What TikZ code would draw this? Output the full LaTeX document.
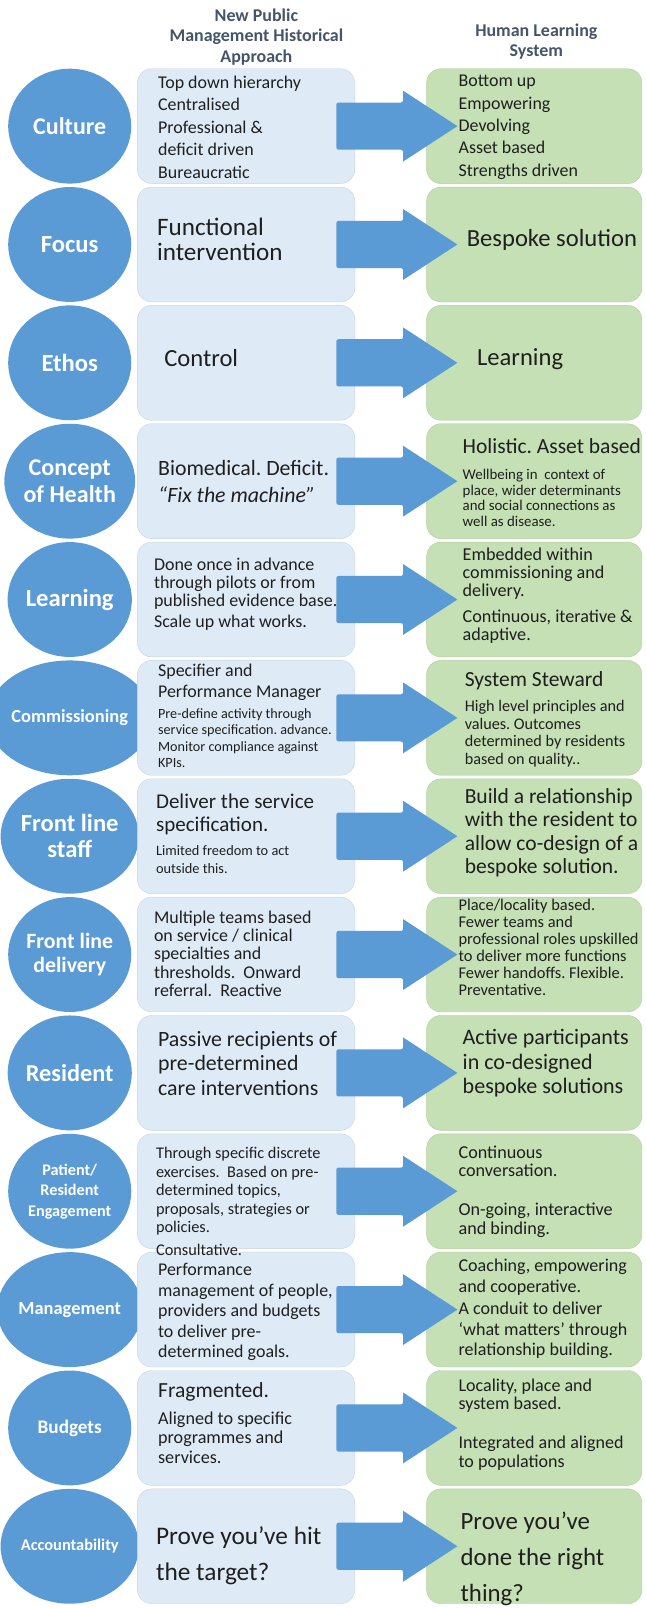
\documentclass[tikz,border=0pt]{standalone}
\usepackage{fontspec}
\setmainfont{Carlito}
\usetikzlibrary{shapes.geometric}
\definecolor{topicblue}{HTML}{5B9BD5}
\definecolor{oldfill}{HTML}{DEEBF7}
\definecolor{olddraw}{HTML}{C8D4E0}
\definecolor{newfill}{HTML}{C5E0B4}
\definecolor{newdraw}{HTML}{B4CDA3}
\definecolor{headgray}{HTML}{44546A}
\newcommand{\fsz}[2]{\fontsize{#1}{#2}\selectfont}
\frenchspacing
\begin{document}
\begin{tikzpicture}[x=1pt,y=-1pt,
    topic/.style={ellipse, fill=topicblue, minimum width=120pt, minimum height=112pt,
      inner sep=0pt, text=white, align=center},
    oldbox/.style={rectangle, rounded corners=14pt, fill=oldfill, draw=olddraw,
      minimum width=212pt, minimum height=112pt},
    newbox/.style={rectangle, rounded corners=14pt, fill=newfill, draw=newdraw,
      minimum width=210pt, minimum height=112pt},
    txt/.style={anchor=west, align=left, inner sep=0pt, text=black!88},
    head/.style={align=center, inner sep=0pt, text=headgray, font=\bfseries\fsz{17.5}{20}}]
  \useasboundingbox (0,0) rectangle (629,1568);

  % column headings
  \node[head] (hdold) at (250,36) {New Public\\Management Historical\\Approach};
  \node[head] (hdnew) at (523,40.5) {Human Learning\\System};

  % rows: topic, old box, new box, arrow
  \foreach \i/\lab/\sz/\bsk in {0/Culture/23.4/26, 1/Focus/24/26, 2/Ethos/24/26,
      3/{Concept\\of Health}/23.5/26, 4/Learning/24/26, 5/Commissioning/18/20,
      6/{Front line\\staff}/24/25, 7/{Front line\\delivery}/21.3/22.7, 8/Resident/23.7/26,
      9/{Patient/\\Resident\\Engagement}/15.8/20, 10/Management/18/20,
      11/Budgets/18.7/20, 12/Accountability/16/20} {
    \pgfmathsetmacro\yc{123+115.4*\i}
    \node[topic, font=\bfseries\fsz{\sz}{\bsk}] (c\i) at (68,\yc) {\lab};
    \node[oldbox] (old\i) at (240,\yc) {};
    \node[newbox] (new\i) at (521,\yc) {};
    \fill[topicblue, rounded corners=2pt] (328,\yc-23) -- (393,\yc-23)
      [sharp corners] -- (393,\yc-34.6) -- (446,\yc) -- (393,\yc+34.6)
      [rounded corners=2pt] -- (393,\yc+23) -- (328,\yc+23) -- cycle;
  }

  % Culture
  \node[txt, font=\fsz{17.5}{21.8}] (t0a) at (154,124) {Top down hierarchy\\Centralised\\Professional \&\\deficit driven\\Bureaucratic};
  \node[txt, font=\fsz{17.5}{21.8}] (t0b) at (447,124) {Bottom up\\Empowering\\Devolving\\Asset based\\Strengths driven};
  % Focus
  \node[txt, font=\fsz{24.5}{25}] (t1a) at (153,233.5) {Functional\\intervention};
  \node[txt, font=\fsz{24}{25}] (t1b) at (455,233.5) {Bespoke solution};
  % Ethos
  \node[txt, font=\fsz{24}{25}] (t2a) at (160,349) {Control};
  \node[txt, font=\fsz{24}{25}] (t2b) at (465,350) {Learning};
  % Concept of Health
  \node[txt, font=\fsz{21.3}{26}] (t3a) at (154,469.5) {Biomedical. Deficit.\\\textit{“Fix the machine”}};
  \node[txt, font=\fsz{14.5}{15.5}] (t3b) at (451,470.5) {\fsz{21}{23}Holistic. Asset based\\[10pt]Wellbeing in\ \ context of\\place, wider determinants\\and social connections as\\well as disease.};
  % Learning
  \node[txt, font=\fsz{17.5}{17.5}] (t4a) at (150,579.5) {Done once in advance\\through pilots or from\\published evidence base.\\[3.5pt]Scale up what works.};
  \node[txt, font=\fsz{17.7}{17.5}] (t4b) at (451,581) {Embedded within\\commissioning and\\delivery.\\[8.5pt]Continuous, iterative \&\\adaptive.};
  % Commissioning
  \node[txt, font=\fsz{13.8}{16}] (t5a) at (154,698) {\fsz{17.5}{21}Specifier and\\[5pt]\fsz{17.5}{21}Performance Manager\\[4pt]Pre-define activity through\\service specification. advance.\\Monitor compliance against\\KPIs.};
  \node[txt, font=\fsz{15.8}{17}] (t5b) at (453,701.5) {\fsz{21}{22}System Steward\\[7.5pt]High level principles and\\values. Outcomes\\determined by residents\\based on quality..};
  % Front line staff
  \node[txt, font=\fsz{14}{17}] (t6a) at (152,813) {\fsz{20.5}{22}Deliver the service\\[5pt]\fsz{20.5}{22}specification.\\[6.5pt]Limited freedom to act\\outside this.};
  \node[txt, font=\fsz{21}{23}] (t6b) at (453,812) {Build a relationship\\with the resident to\\allow co-design of a\\bespoke solution.};
  % Front line delivery
  \node[txt, font=\fsz{17.5}{17.8}] (t7a) at (150,930) {Multiple teams based\\on service / clinical\\specialties and\\thresholds.\ \ Onward\\referral.\ \ Reactive};
  \node[txt, font=\fsz{16}{16.6}] (t7b) at (447,923.5) {Place/locality based.\\Fewer teams and\\professional roles upskilled\\to deliver more functions\\Fewer handoffs. Flexible.\\Preventative.};
  % Resident
  \node[txt, font=\fsz{21.3}{24}] (t8a) at (154,1037) {Passive recipients of\\pre-determined\\care interventions};
  \node[txt, font=\fsz{21.5}{24}] (t8b) at (451,1037) {Active participants\\in co-designed\\bespoke solutions};
  % Patient/Resident Engagement
  \node[txt, font=\fsz{15.9}{18}] (t9a) at (152,1171.5) {Through specific discrete\\exercises.\ \ Based on pre-\\determined topics,\\proposals, strategies or\\policies.\\[4pt]Consultative.};
  \node[txt, font=\fsz{17.7}{18}] (t9b) at (447,1162) {Continuous\\conversation.\\[20pt]On-going, interactive\\and binding.};
  % Management
  \node[txt, font=\fsz{17.5}{20}] (t10a) at (154,1279.5) {Performance\\management of people,\\providers and budgets\\to deliver pre-\\determined goals.};
  \node[txt, font=\fsz{17.6}{20}] (t10b) at (447,1276.5) {Coaching, empowering\\and cooperative.\\[2pt]A conduit to deliver\\‘what matters’ through\\relationship building.};
  % Budgets
  \node[txt, font=\fsz{17.7}{19}] (t11a) at (154,1387.5) {\fsz{21}{22}Fragmented.\\[7pt]Aligned to specific\\programmes and\\services.};
  \node[txt, font=\fsz{17.6}{18}] (t11b) at (447,1389) {Locality, place and\\system based.\\[20pt]Integrated and aligned\\to populations};
  % Accountability
  \node[txt, font=\fsz{24.7}{36}] (t12a) at (152,1517) {Prove you’ve hit\\the target?};
  \node[txt, font=\fsz{24.2}{35.5}] (t12b) at (449,1520) {Prove you’ve\\done the right\\thing?};
\end{tikzpicture}
\end{document}
